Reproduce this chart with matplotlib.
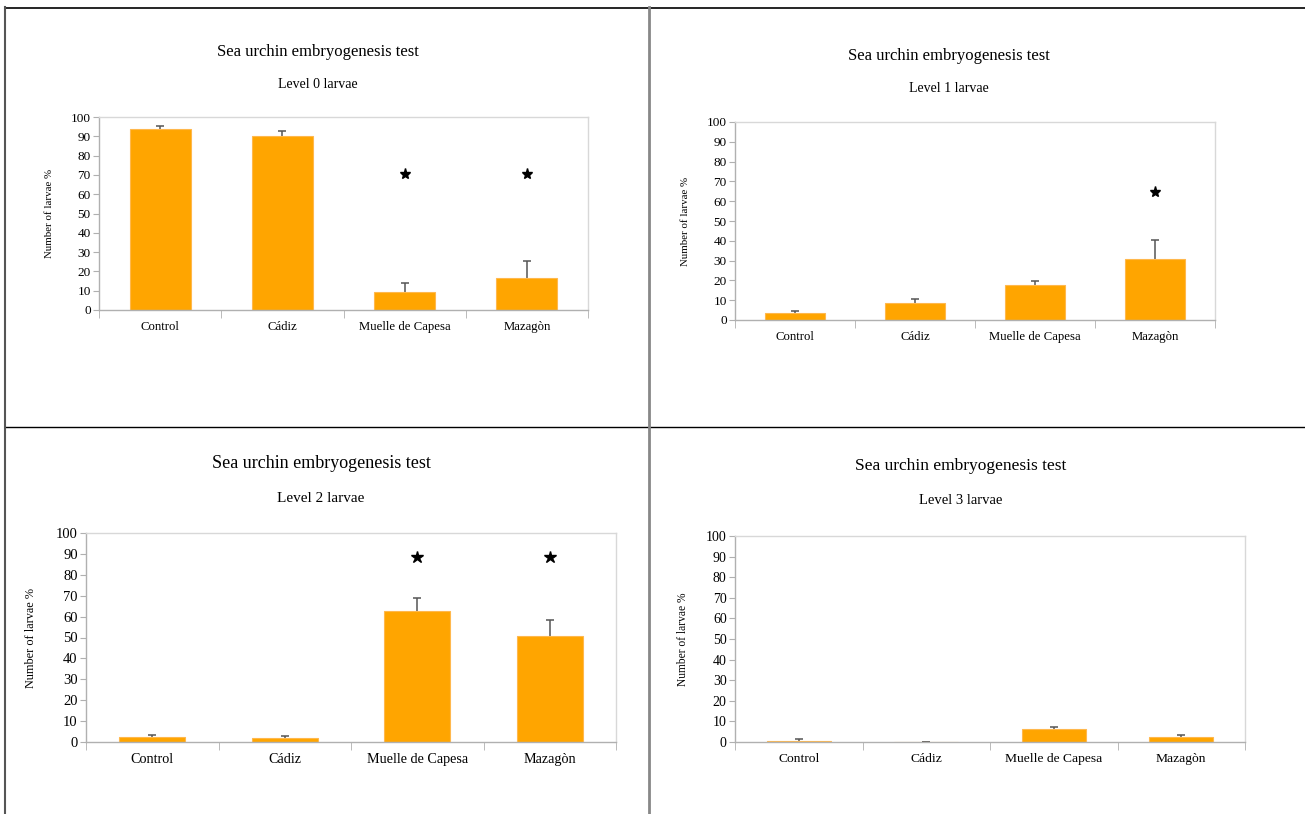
import matplotlib
matplotlib.use("Agg")
import matplotlib.pyplot as plt
from matplotlib.lines import Line2D
import numpy as np

plt.rcParams['font.family'] = ['Liberation Serif', 'DejaVu Serif']

categories = ["Control", "Cádiz", "Muelle de Capesa", "Mazagòn"]
title = "Sea urchin embryogenesis test"
subtitles = ["Level 0 larvae", "Level 1 larvae", "Level 2 larvae", "Level 3 larvae"]
ylabel = "Number of larvae %"

level0_mean = [94, 90, 9.5, 16.5]
level0_err = [1.5, 3, 4.5, 9]
level0_star = [np.nan, np.nan, 70.5, 70.5]

level1_mean = [3.5, 8.5, 17.5, 31]
level1_err = [1.2, 2, 2, 9.5]
level1_star = [np.nan, np.nan, np.nan, 64.5]

level2_mean = [2.3, 2, 62.5, 50.5]
level2_err = [1.2, 1, 6.5, 8]
level2_star = [np.nan, np.nan, 88.5, 88.5]

level3_mean = [0.5, 0, 6.2, 2.3]
level3_err = [1, 0.1, 1.3, 1.2]
level3_star = [np.nan, np.nan, np.nan, np.nan]

W, H = 1305, 814
fig = plt.figure(figsize=(W / 100, H / 100), dpi=100)

def px_axes(x0, y0, x1, y1):
    return fig.add_axes([x0 / W, 1 - y1 / H, (x1 - x0) / W, (y1 - y0) / H])

panels = [
    dict(box=(99, 117, 588, 310), ty=52, sy=85, cx=318, yl=50, ts=12, ss=10, tk=9.5, ls=7.8, ms=8,
         mean=level0_mean, err=level0_err, star=level0_star, sub=subtitles[0]),
    dict(box=(735, 122, 1215, 320), ty=56, sy=89, cx=949, yl=685, ts=12, ss=10, tk=9.5, ls=7.8, ms=8,
         mean=level1_mean, err=level1_err, star=level1_star, sub=subtitles[1]),
    dict(box=(86, 533, 616, 742), ty=463, sy=498, cx=321, yl=31, ts=13, ss=11, tk=10.5, ls=8.8, ms=9,
         mean=level2_mean, err=level2_err, star=level2_star, sub=subtitles[2]),
    dict(box=(735, 536, 1245, 742), ty=466, sy=501, cx=961, yl=683, ts=12.5, ss=10.5, tk=10, ls=8.3, ms=8,
         mean=level3_mean, err=level3_err, star=level3_star, sub=subtitles[3]),
]

x = np.arange(len(categories))
for p in panels:
    ax = px_axes(*p["box"])
    ax.errorbar(x, p["mean"], yerr=p["err"], fmt="none",
                ecolor="#555555", elinewidth=1.1, capsize=2.6, capthick=1.1, zorder=1)
    ax.bar(x, p["mean"], width=0.5, color="#FFA500", edgecolor="#FFB84D", linewidth=0.8, zorder=2)
    ax.plot(x, p["star"], linestyle="none", marker="*", markersize=p["ms"],
            color="black", zorder=4)
    ax.set_xlim(-0.5, len(categories) - 0.5)
    ax.set_ylim(0, 100)
    ax.set_yticks(np.arange(0, 101, 10))
    ax.set_xticks(x)
    ax.set_xticklabels(categories, fontsize=p["tk"] * 0.97)
    ax.set_xticks(np.arange(-0.5, len(categories), 1), minor=True)
    ax.tick_params(axis="x", which="major", length=0, pad=8)
    ax.tick_params(axis="x", which="minor", length=6, color="#b0b0b0", direction="out")
    ax.tick_params(axis="y", length=4, color="#b0b0b0", labelsize=p["tk"], pad=2)
    for side in ["top", "right"]:
        ax.spines[side].set_color("#d8d8d8")
    for side in ["left", "bottom"]:
        ax.spines[side].set_color("#b0b0b0")
    for sp in ax.spines.values():
        sp.set_linewidth(1.0)
    fig.text(p["yl"] / W, 1 - ((p["box"][1] + p["box"][3]) / 2) / H, ylabel,
             rotation=90, ha="center", va="center", fontsize=p["ls"])
    fig.text(p["cx"] / W, 1 - p["ty"] / H, title, ha="center", va="center", fontsize=p["ts"])
    fig.text(p["cx"] / W, 1 - p["sy"] / H, p["sub"], ha="center", va="center", fontsize=p["ss"])

def hline(y, x0, x1, color="black", lw=1.2):
    fig.add_artist(Line2D([x0 / W, x1 / W], [1 - y / H, 1 - y / H], color=color, lw=lw))

def vline(xp, y0, y1, color="black", lw=1.2):
    fig.add_artist(Line2D([xp / W, xp / W], [1 - y0 / H, 1 - y1 / H], color=color, lw=lw))

hline(7.5, 5, W)
hline(427.5, 5, W, lw=1.0)
vline(5.5, 7, H, color="#555555", lw=1.5)
vline(649, 7, H, color="#888888", lw=2.0)

fig.savefig("out.png", dpi=100)
